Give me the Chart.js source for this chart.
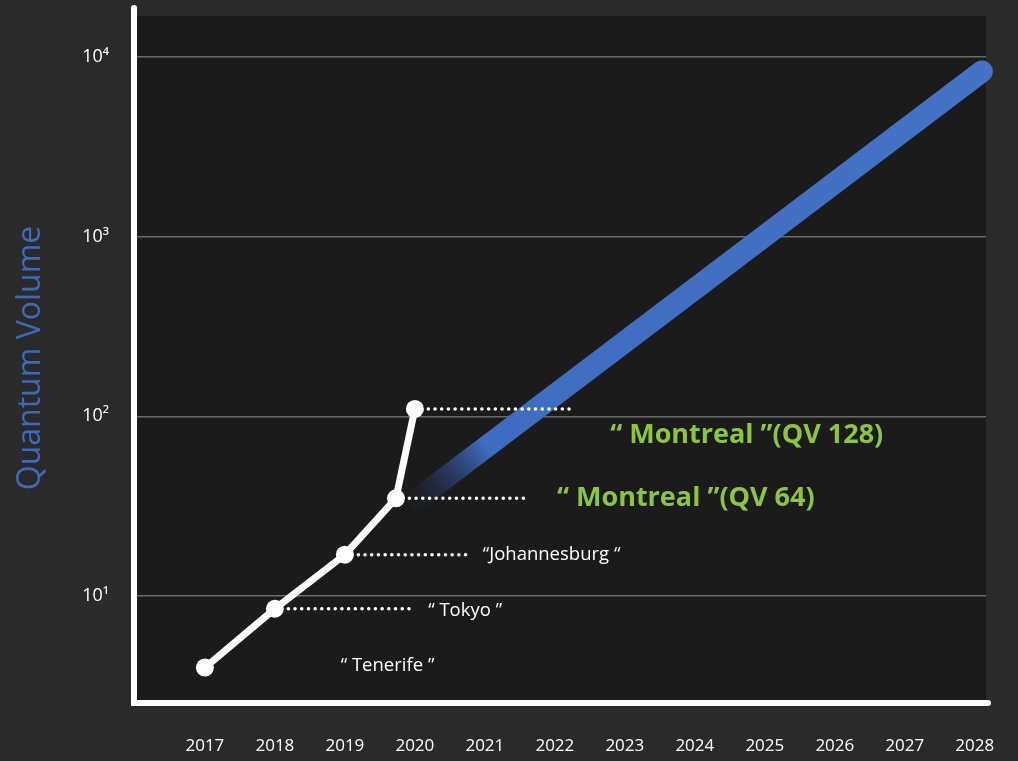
<!DOCTYPE html>
<html>
<head>
<meta charset="utf-8">
<script src="https://cdn.jsdelivr.net/npm/chart.js@4"></script>
<style>
  body { margin: 0; background: #2b2a2b; }
  #wrap { width: 1018px; height: 761px; position: relative; }
</style>
</head>
<body>
<div id="wrap"><canvas id="qvChart"></canvas></div>
<script>
// data
const years = [2017, 2018, 2019, 2019.73, 2020];
const quantumVolume = [4, 8.5, 17, 35, 110];

const roadmapYears = [2020.05, 2028.1];
const roadmapVolume = [35, 8300];

const xTicks = [2017, 2018, 2019, 2020, 2021, 2022, 2023, 2024, 2025, 2026, 2027, 2028];
const yTicks = [10, 100, 1000, 10000];
const yTickLabels = ["10¹", "10²", "10³", "10⁴"];

// dotted leader lines: start year, end year, level
const leaderStart = [2018, 2019, 2019.73, 2020];
const leaderEnd = [2020.0, 2020.74, 2021.57, 2022.21];
const leaderLevel = [8.5, 17, 35, 110];

// annotation texts and their anchors (year, value)
const noteTexts = ["“ Tenerife ”", "“ Tokyo ”", "“Johannesburg “", "“ Montreal ”(QV 64)", "“ Montreal ”(QV 128)"];
const noteYears = [2018.94, 2020.19, 2020.97, 2022.03, 2022.79];
const noteValues = [4.1, 8.3, 17, 35, 78];
const noteBig = [false, false, false, true, true];

const ctx = document.getElementById("qvChart").getContext("2d");

const leaderSets = leaderLevel.map((lvl, i) => ({
    data: [{ x: leaderStart[i], y: lvl }, { x: leaderEnd[i], y: lvl }],
    borderColor: "#ffffff",
    borderWidth: 3.5,
    borderDash: [0.1, 6.6],
    borderCapStyle: "round",
    pointRadius: 0,
    order: 2
}));

// no extra padding for edge labels, keep plot area where it is in the picture
const noPad = (axis) => {
    axis.paddingLeft = 0;
    axis.paddingRight = 0;
    axis.paddingTop = 0;
    axis.paddingBottom = 0;
};

const decor = {
    id: "decor",
    beforeDraw(chart) {
        const a = chart.chartArea;
        const c = chart.ctx;
        c.save();
        c.fillStyle = "#1b1b1b";
        c.fillRect(a.left, a.top, a.right - a.left, a.bottom - a.top);
        c.restore();
    },
    afterDatasetsDraw(chart) {
        const a = chart.chartArea;
        const c = chart.ctx;
        const xs = chart.scales.x;
        const ys = chart.scales.y;
        c.save();
        c.strokeStyle = "#ffffff";
        c.lineCap = "round";
        c.lineWidth = 6;
        c.beginPath();
        c.moveTo(a.left - 3, a.top - 8);
        c.lineTo(a.left - 3, a.bottom + 3);
        c.lineTo(a.right + 2, a.bottom + 3);
        c.stroke();

        c.textBaseline = "middle";
        c.textAlign = "left";
        noteTexts.forEach((t, i) => {
            if (noteBig[i]) {
                c.font = "bold 27px 'Open Sans'";
                c.fillStyle = "#8cc63f";
            } else {
                c.font = "18.5px 'Open Sans'";
                c.fillStyle = "#ffffff";
            }
            c.fillText(t, xs.getPixelForValue(noteYears[i]), ys.getPixelForValue(noteValues[i]));
        });
        c.restore();
    }
};

new Chart(ctx, {
    type: "line",
    data: {
        datasets: [
            {
                data: years.map((y, i) => ({ x: y, y: quantumVolume[i] })),
                borderColor: "#ffffff",
                backgroundColor: "#ffffff",
                borderWidth: 7,
                borderJoinStyle: "round",
                pointRadius: 9,
                pointBorderWidth: 0,
                order: 1
            },
            ...leaderSets,
            {
                data: roadmapYears.map((y, i) => ({ x: y, y: roadmapVolume[i] })),
                borderWidth: 22,
                borderCapStyle: "round",
                pointRadius: 0,
                clip: false,
                borderColor: (c) => {
                    const chart = c.chart;
                    if (!chart.chartArea) return "#4472c4";
                    const xs = chart.scales.x, ys = chart.scales.y;
                    const x0 = xs.getPixelForValue(roadmapYears[0]);
                    const y0 = ys.getPixelForValue(roadmapVolume[0]);
                    const x1 = xs.getPixelForValue(roadmapYears[1]);
                    const y1 = ys.getPixelForValue(roadmapVolume[1]);
                    const g = chart.ctx.createLinearGradient(x0, y0, x1, y1);
                    g.addColorStop(0, "rgba(40,60,110,0.1)");
                    g.addColorStop(0.12, "#3f6cc0");
                    g.addColorStop(1, "#4472c4");
                    return g;
                },
                order: 3
            }
        ]
    },
    options: {
        responsive: true,
        maintainAspectRatio: false,
        animation: false,
        layout: { padding: { top: 16, right: 32, left: 0, bottom: 0 } },
        plugins: { legend: { display: false }, tooltip: { enabled: false } },
        scales: {
            x: {
                type: "linear",
                min: 2016.03,
                max: 2028.16,
                afterBuildTicks: (axis) => { axis.ticks = xTicks.map(v => ({ value: v })); },
                afterFit: (axis) => { axis.height = 61; noPad(axis); },
                grid: { display: false, drawTicks: false },
                border: { display: false },
                ticks: {
                    color: "#ffffff",
                    font: { family: "Open Sans", size: 17 },
                    padding: 36,
                    maxRotation: 0,
                    autoSkip: false,
                    callback: (v) => String(v)
                }
            },
            y: {
                type: "logarithmic",
                min: 2.64,
                max: 16900,
                afterBuildTicks: (axis) => { axis.ticks = yTicks.map(v => ({ value: v })); },
                afterFit: (axis) => { axis.width = 137; noPad(axis); },
                grid: { color: "#6b6b6b", lineWidth: 1.5, drawTicks: false },
                border: { display: false },
                ticks: {
                    color: "#ffffff",
                    font: { family: "Open Sans", size: 18 },
                    padding: 28,
                    callback: (v) => yTickLabels[yTicks.indexOf(v)]
                },
                title: {
                    display: true,
                    text: "Quantum Volume",
                    color: "#3d6bb8",
                    font: { family: "Open Sans", size: 32, weight: "400" },
                    padding: { top: 12 }
                }
            }
        }
    },
    plugins: [decor]
});
</script>
</body>
</html>
